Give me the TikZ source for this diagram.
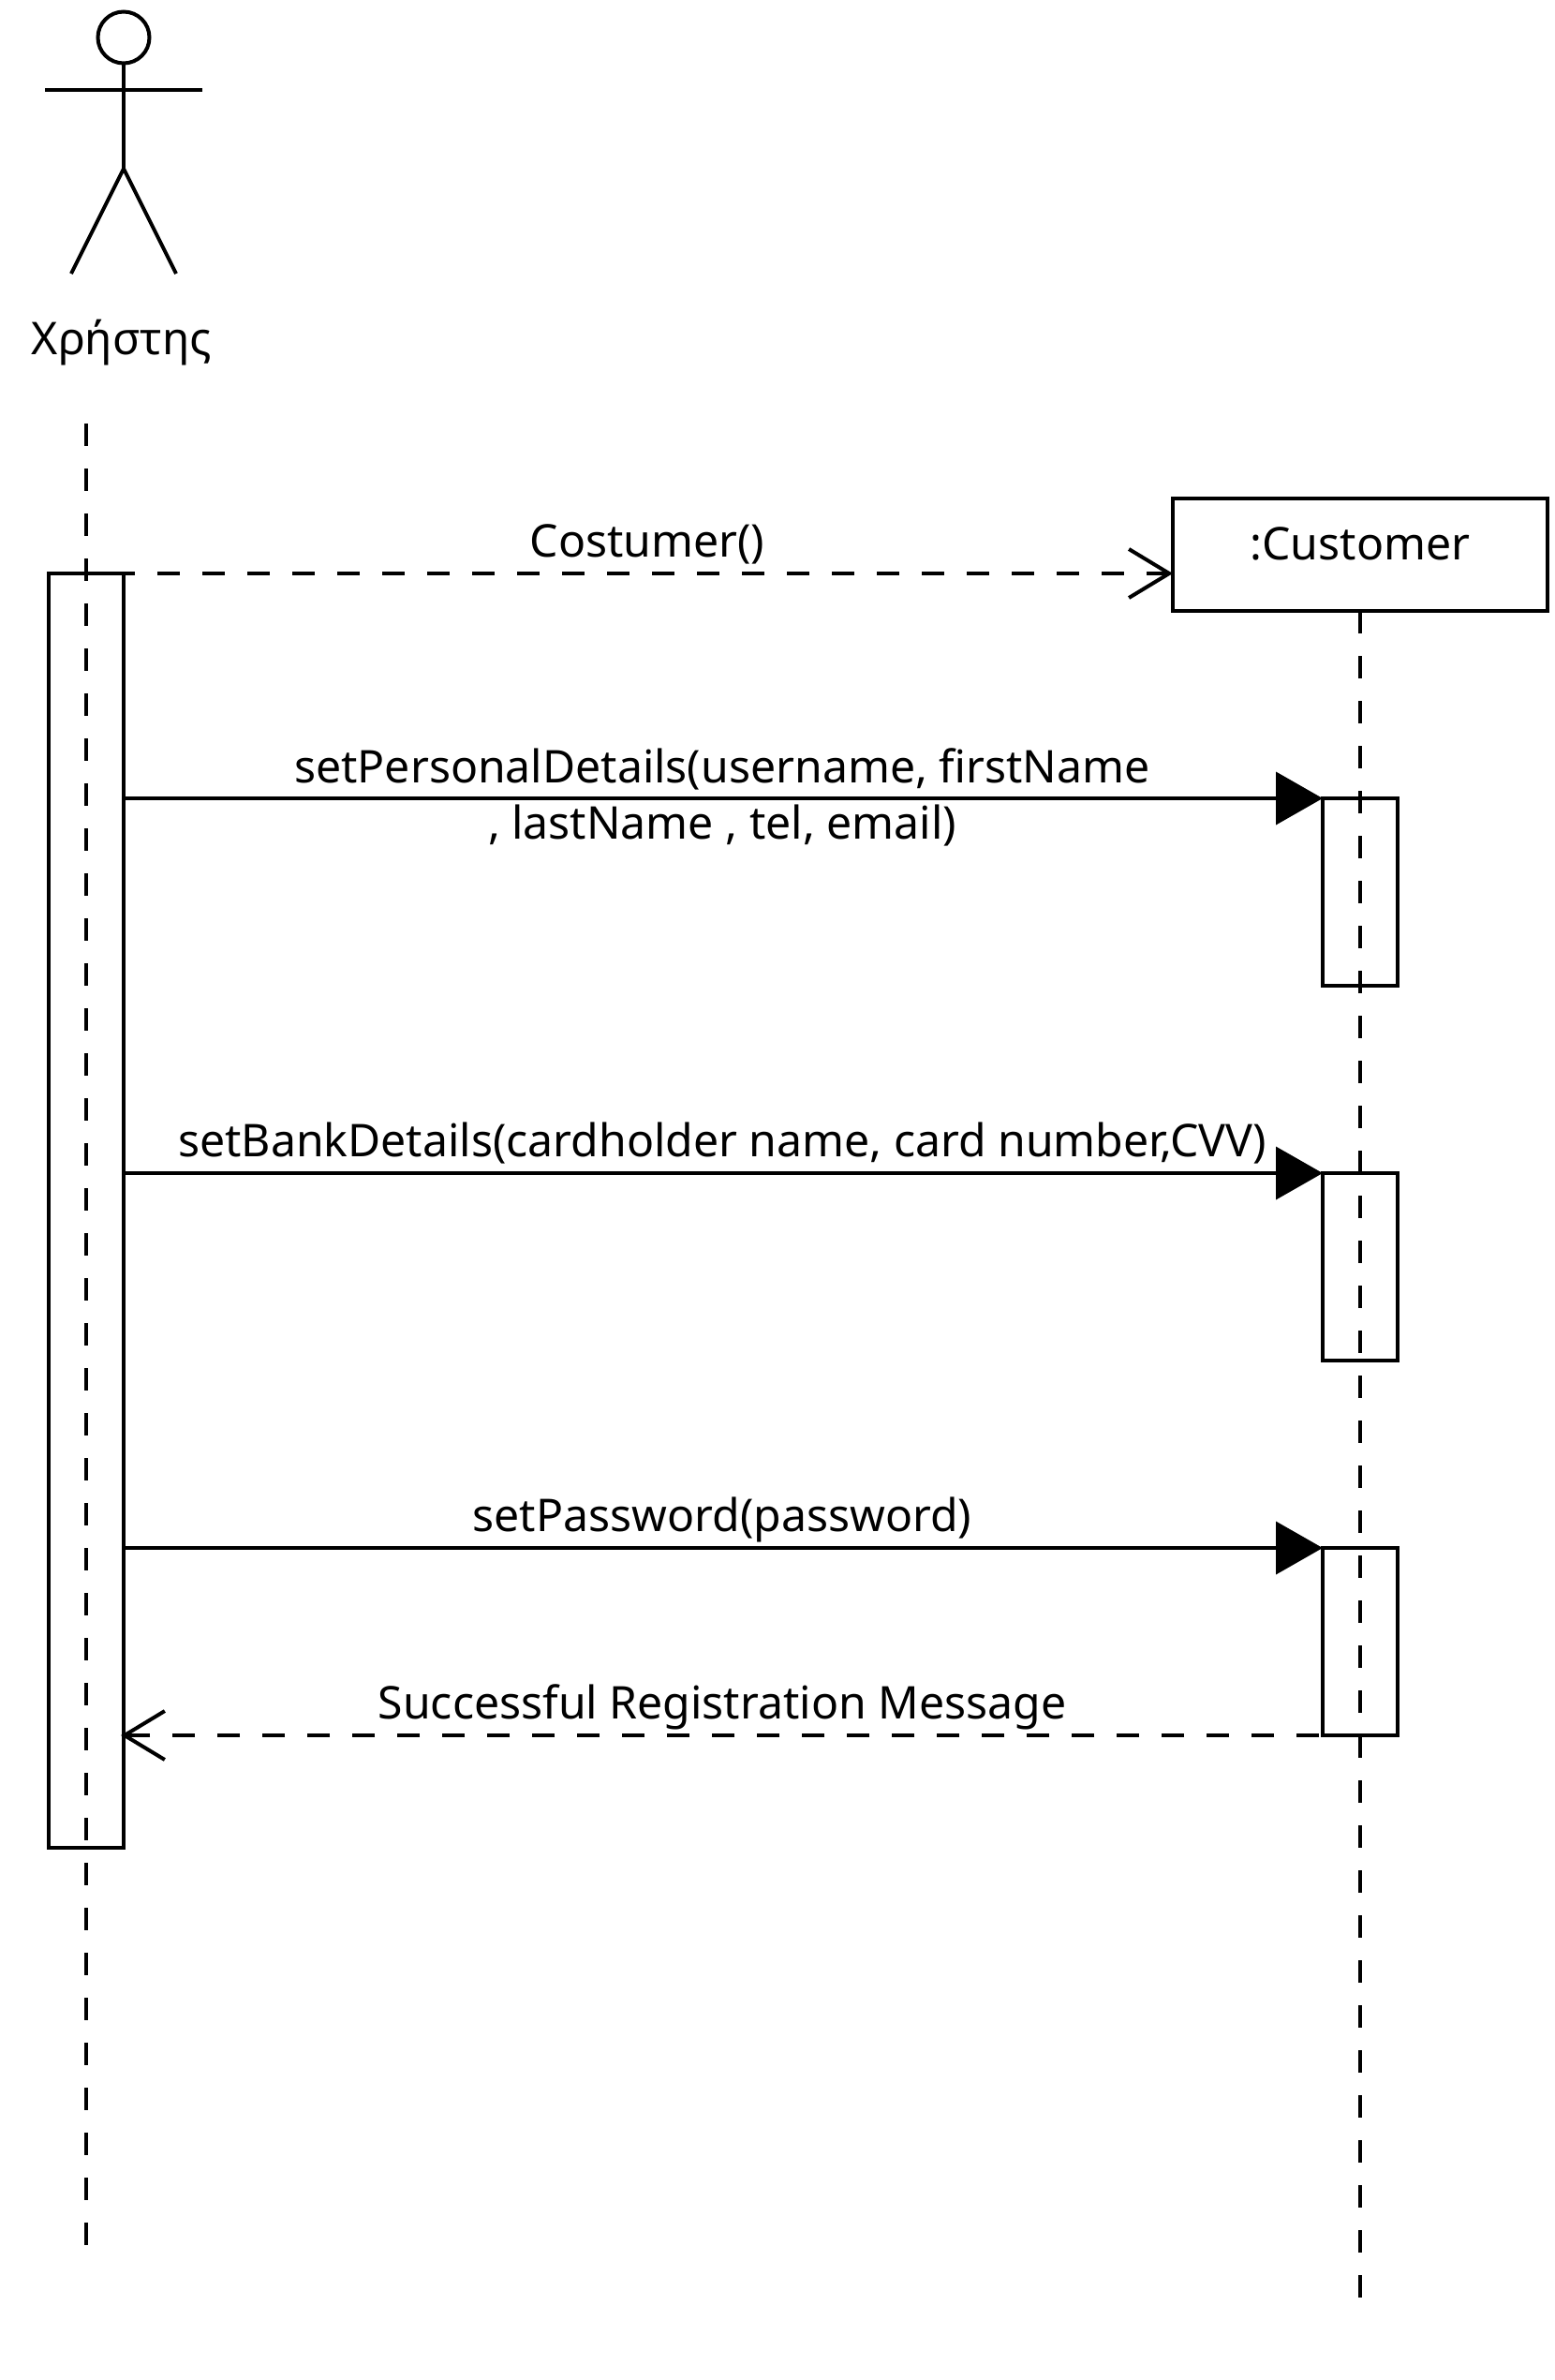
\documentclass[tikz,border=0pt]{standalone}
\usepackage{fontspec}
\setmainfont{Noto Sans}
\usetikzlibrary{arrows.meta}
\tikzstyle{actorline} = [line width=0.08cm]
\tikzstyle{object} = [rectangle, minimum width=8cm, minimum height=2.4cm, text centered, draw=black, line width=0.08cm, inner sep=0pt, outer sep=0pt, text height=0.68cm, text depth=0.48cm]
\tikzstyle{activation} = [rectangle, minimum width=1.6cm, minimum height=4cm, draw=black, line width=0.08cm, inner sep=0pt, outer sep=0pt]
\tikzstyle{lifeline} = [line width=0.08cm, dash pattern=on 0.48cm off 0.48cm]
\tikzstyle{arrow} = [line width=0.08cm, -{Triangle[length=1cm,width=1.12cm]}]
\tikzstyle{reply} = [line width=0.08cm, dash pattern=on 0.48cm off 0.48cm, -{Straight Barb[length=0.86cm,width=1.04cm]}]
\tikzstyle{msgtext} = [anchor=base, yshift=0.36cm, xshift=-0.02cm, inner sep=0pt]

\begin{document}
\begin{tikzpicture}[node distance=8cm, font=\fontsize{27.4}{34.5}\selectfont]
\useasboundingbox (0,0) rectangle (33.2,-50.8);

% actor
\node(head)[circle, draw=black, line width=0.08cm, minimum size=1.1cm, inner sep=0pt, outer sep=0pt] at (2.64,-0.8){};
\coordinate(waist) at (2.64,-3.6);
\coordinate(armL) at (0.96,-1.92);
\coordinate(armR) at (4.32,-1.92);
\coordinate(legL) at (1.52,-5.84);
\coordinate(legR) at (3.76,-5.84);
\node(userName)[anchor=base, inner sep=0pt] at (2.6,-7.56){Χρήστης};

\draw[actorline](head) -- (waist);
\draw[actorline](armL) -- (armR);
\draw[actorline](legL) -- (waist) -- (legR);

% objects
\node(userAct)[activation, minimum height=27.2cm] at (1.84,-25.84){};
\node(customer)[object] at (29.04,-11.84){:Customer};
\node(custActA)[activation, below of=customer, node distance=7.2cm]{};
\node(custActB)[activation, below of=custActA]{};
\node(custActC)[activation, below of=custActB]{};

% lifelines
\coordinate(userTop) at (1.84,-9.04);
\coordinate(userEnd) at (1.84,-47.92);
\coordinate(custEnd) at (29.04,-49.04);
\draw[lifeline](userTop) -- (userEnd);
\draw[lifeline](customer.south) -- (custEnd);

% messages
\draw[reply, dash phase=0.24cm](userAct.north east) -- node[msgtext]{Costumer()}(userAct.north east -| customer.west);
\draw[arrow](custActA.north west -| userAct.east) -- node[anchor=center, align=center, inner sep=0pt, xshift=-0.02cm, yshift=0.02cm]{setPersonalDetails(username, firstName\\, lastName , tel, email)}(custActA.north west);
\draw[arrow](custActB.north west -| userAct.east) -- node[msgtext]{setBankDetails(cardholder name, card number,CVV)}(custActB.north west);
\draw[arrow](custActC.north west -| userAct.east) -- node[msgtext]{setPassword(password)}(custActC.north west);
\draw[reply, dash phase=0.88cm, shorten >=-0.06cm](custActC.south west) -- node[msgtext]{Successful Registration Message}(custActC.south west -| userAct.east);

\end{tikzpicture}
\end{document}
